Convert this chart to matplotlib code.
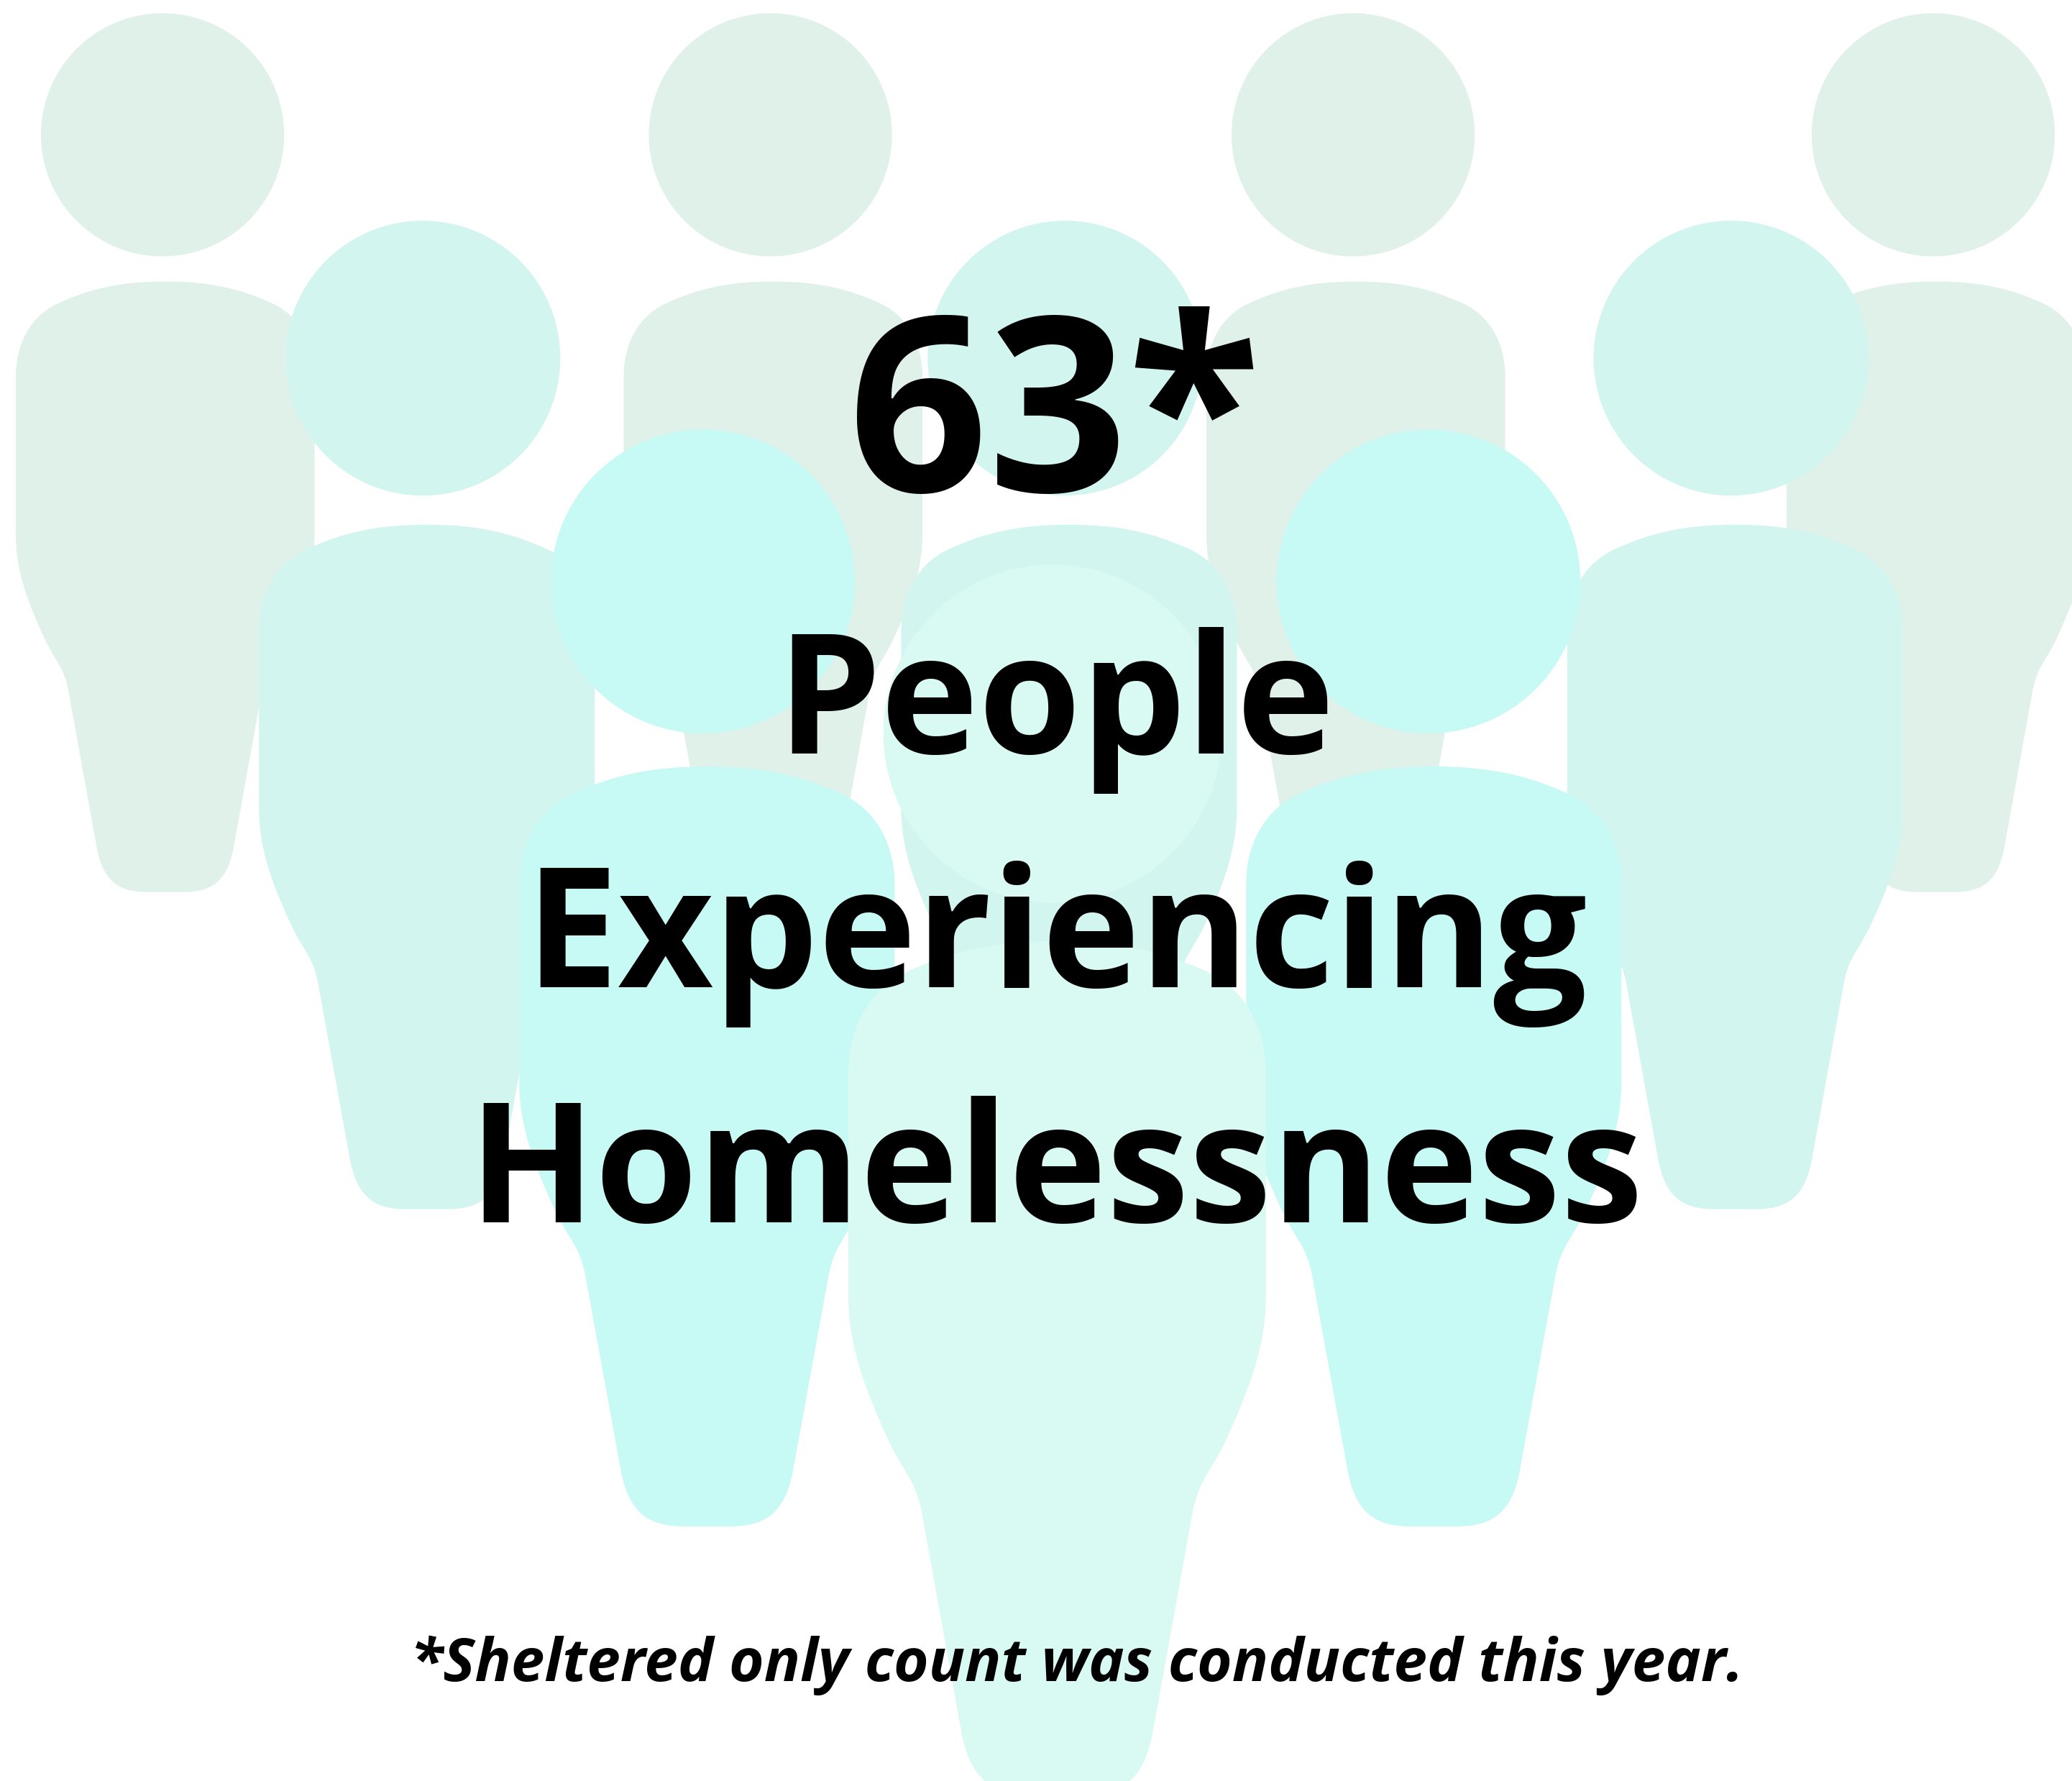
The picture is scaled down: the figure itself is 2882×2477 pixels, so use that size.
import matplotlib
matplotlib.use("Agg")
import matplotlib.pyplot as plt
from matplotlib.path import Path
from matplotlib.patches import PathPatch, Circle

W, H = 2882, 2477
S = 2882 / 1568

# people in reference pixel units of a 1568-wide view
back_heads = [123, 583, 1024, 1463]
back_bodies = [125, 585, 1026, 1465]
mid_heads = [320, 806, 1310]
mid_bodies = [323, 809, 1313]
front_heads = [532, 1081]
front_bodies = [535, 1085]
center_heads = [796.5]
center_bodies = [800]

BACK = "#dff1e9"
MID = "#d3f5ef"
FRONT = "#c7f9f5"
CENTER = "#d9f9f3"

value_text = "63*"
label_lines = ["People", "Experiencing", "Homelessness"]
note_text = "*Sheltered only count was conducted this year."

HALF = [
    (Path.MOVETO, (0, 0)),
    (Path.CURVE4, (0.15, 0.0)), (Path.CURVE4, (0.25, 0.012)), (Path.CURVE4, (0.35, 0.034)),
    (Path.CURVE4, (0.43, 0.05)), (Path.CURVE4, (0.5, 0.09)), (Path.CURVE4, (0.5, 0.156)),
    (Path.LINETO, (0.5, 0.415)),
    (Path.CURVE4, (0.5, 0.475)), (Path.CURVE4, (0.46, 0.525)), (Path.CURVE4, (0.404, 0.585)),
    (Path.CURVE4, (0.365, 0.625)), (Path.CURVE4, (0.34, 0.63)), (Path.CURVE4, (0.324, 0.67)),
    (Path.LINETO, (0.228, 0.93)),
    (Path.CURVE4, (0.205, 0.985)), (Path.CURVE4, (0.15, 1.0)), (Path.CURVE4, (0.06, 1.0)),
    (Path.LINETO, (0, 1)),
]


def body_path(cx, top, bottom, width):
    codes = [c for c, _ in HALF]
    verts = [p for _, p in HALF]
    # mirrored side, walked back up
    r_verts = verts[-2::-1]
    r_codes = codes[-1:0:-1]
    all_verts = verts + [(-u, v) for u, v in r_verts]
    all_codes = codes + r_codes
    pts = [((cx + u * width) * S, (top + v * (bottom - top)) * S) for u, v in all_verts]
    return Path(pts, all_codes)


fig = plt.figure(figsize=(W / 100, H / 100), dpi=100, facecolor="white")
ax = fig.add_axes([0, 0, 1, 1])
ax.set_xlim(0, W)
ax.set_ylim(H, 0)
ax.axis("off")


def draw_row(heads, bodies, head_y, r, top, bottom, width, color, z):
    for hx, bx in zip(heads, bodies):
        ax.add_patch(PathPatch(body_path(bx, top, bottom, width), fc=color, ec="none", zorder=z))
        ax.add_patch(Circle((hx * S, head_y * S), r * S, fc=color, ec="none", zorder=z))


draw_row(back_heads, back_bodies, 102, 92, 213, 675, 226, BACK, 1)
draw_row(mid_heads, mid_bodies, 271, 104, 397, 915, 254, MID, 2)
draw_row(front_heads, front_bodies, 440, 115, 580, 1155, 284, FRONT, 3)
draw_row(center_heads, center_bodies, 555, 128, 712, 1358, 316, CENTER, 4)

FONT = "Open Sans"
ax.text(798 * S, 372 * S, value_text, fontsize=245, fontweight="bold", family=FONT,
        ha="center", va="baseline", color="black", zorder=10)
for line, base in zip(label_lines, [570, 747, 925]):
    ax.text(799 * S, base * S, line, fontsize=166, fontweight="bold", family=FONT,
            ha="center", va="baseline", color="black", zorder=10)
ax.text(815 * S, 1272 * S, note_text, fontsize=60, fontweight="bold", style="italic",
        family="Open Sans", ha="center", va="baseline", color="black", zorder=10)

fig.savefig("out.png", dpi=100)
